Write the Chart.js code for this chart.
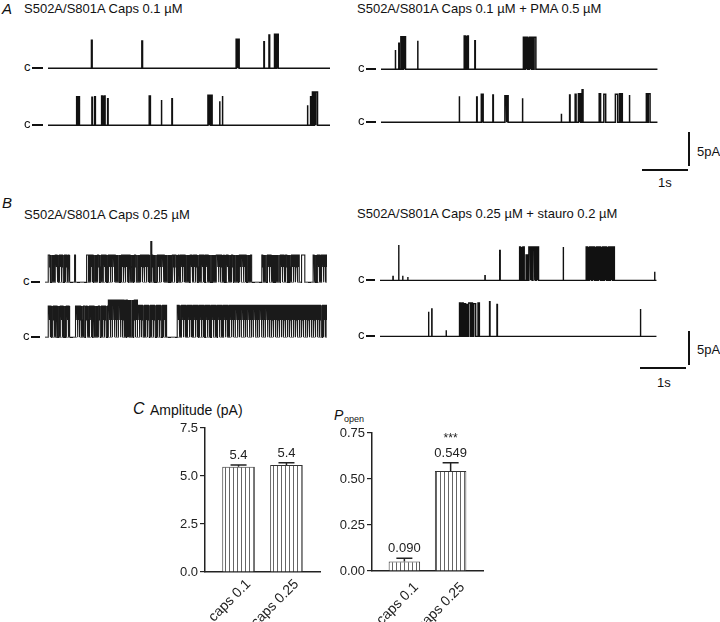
<!DOCTYPE html>
<html>
<head>
<meta charset="utf-8">
<script src="https://cdn.jsdelivr.net/npm/chart.js@4.4.1/dist/chart.umd.min.js"></script>
<style>
  html, body { margin: 0; padding: 0; background: #fff; }
  #fig { position: relative; width: 720px; height: 622px; overflow: hidden;
         font-family: "Liberation Sans", Arial, sans-serif; color: #111; }
  #fig canvas { position: absolute; }
  .t { position: absolute; font-size: 13px; line-height: 1; white-space: nowrap; }
  .it { font-style: italic; }
  .ln { position: absolute; background: #111; }
</style>
</head>
<body>
<div id="fig">
  <!-- panel A -->
  <div class="t it" style="left:2px;top:1px;font-size:15px">A</div>
  <div class="t" style="left:24px;top:2px">S502A/S801A Caps 0.1 µM</div>
  <div class="t" style="left:357px;top:2px">S502A/S801A Caps 0.1 µM + PMA 0.5 µM</div>

  <!-- panel B -->
  <div class="t it" style="left:2px;top:195px;font-size:15px">B</div>
  <div class="t" style="left:24px;top:208px">S502A/S801A Caps 0.25 µM</div>
  <div class="t" style="left:357px;top:207px">S502A/S801A Caps 0.25 µM + stauro 0.2 µM</div>

  <!-- scale bars -->
  <div class="ln" style="left:688px;top:132px;width:1.5px;height:34px"></div>
  <div class="ln" style="left:642px;top:169px;width:46px;height:1.5px"></div>
  <div class="t" style="left:697px;top:145px">5pA</div>
  <div class="t" style="left:658px;top:176px">1s</div>
  <div class="ln" style="left:688px;top:331px;width:1.5px;height:34px"></div>
  <div class="ln" style="left:640px;top:367px;width:46px;height:1.5px"></div>
  <div class="t" style="left:697px;top:343px">5pA</div>
  <div class="t" style="left:657px;top:376px">1s</div>

  <!-- panel C -->
  <div class="t it" style="left:133px;top:401px;font-size:16px">C</div>
  <div class="t" style="left:150px;top:403px;font-size:14px">Amplitude (pA)</div>
  <div class="t it" style="left:334px;top:408px;font-size:14px">P</div>
  <div class="t" style="left:344px;top:415px;font-size:9px">open</div>
</div>

<script>
/* ── DATA ── times in s, amplitudes in pA: [open, close, amplitude] */
const al1Events = [[0.94,0.955,4.2],[2.03,2.045,4.1],[4.07,4.135,4.35],[4.67,4.68,4.0],[4.78,4.795,5.0],[4.90,4.98,5.1]];
const al1Closures = [4.09,4.115,4.93,4.955];

const al2Events = [[0.62,0.635,4.3],[0.665,0.68,4.3],[0.95,0.962,4.2],[1.01,1.025,4.3],[1.16,1.235,4.4],[1.29,1.30,4.0],
  [2.19,2.215,4.4],[2.45,2.46,3.8],[2.68,2.69,4.0],[3.46,3.55,4.5],[3.71,3.72,3.6],[3.77,3.78,4.4],
  [5.61,5.62,3.0],[5.68,5.69,4.3],[5.72,5.83,5.0]];
const al2Closures = [1.185,1.21,3.485,3.515,5.75,5.785];

const ar1Events = [[0.31,0.315,2.9],[0.385,0.395,3.9],[0.43,0.53,4.9],[0.79,0.80,4.3],[1.80,1.89,5.0],[2.03,2.04,4.3],[3.08,3.35,4.8]];
const ar1Closures = [0.45,0.47,0.50,1.83,1.86,3.11,3.14,3.17,3.20,3.23,3.26,3.30];

const ar2Events = [[1.69,1.70,3.9],[2.07,2.08,3.8],[2.17,2.21,4.2],[2.42,2.43,4.1],[2.68,2.75,4.0],[3.06,3.065,3.6],
  [3.90,3.905,1.3],[4.08,4.09,4.1],[4.20,4.22,4.2],[4.27,4.32,4.3],[4.35,4.37,4.9],[4.72,4.75,4.3],[4.82,4.86,4.2],
  [5.07,5.12,4.2],[5.16,5.22,4.3],[5.37,5.38,4.1],[5.74,5.82,4.3]];
const ar2Closures = [2.19,2.71,4.29,5.19,5.77];

const bl1Events = [[0.07,0.54,4.1],[0.64,0.66,4.1],[0.90,2.29,4.1],[2.29,2.31,6.1],[2.31,4.47,4.1],
  [4.69,5.50,4.1],[5.55,5.62,4.1],[5.80,6.10,4.1]];
const bl1Closures = [0.12,0.17,0.21,0.26,0.30,0.35,0.40,0.44,0.49,
  0.94,0.98,1.02,1.05,1.10,1.13,1.18,1.22,1.25,1.30,1.34,1.36,1.41,1.45,1.50,1.53,1.57,1.62,1.65,1.69,1.74,1.78,1.81,
  1.86,1.90,1.93,1.98,2.03,2.06,2.10,2.15,2.19,2.23,2.27,2.35,2.39,2.42,2.47,2.51,2.56,2.59,2.63,2.68,2.72,2.75,2.80,
  2.85,2.88,2.92,2.97,3.01,3.04,3.09,3.13,3.18,3.21,3.25,3.30,3.34,3.37,3.42,3.46,3.51,3.54,3.58,3.63,3.67,3.70,3.75,
  3.79,3.84,3.87,3.91,3.96,4.00,4.03,4.08,4.12,4.17,4.20,4.24,4.29,4.33,4.36,4.41,4.44,
  4.73,4.77,4.80,4.85,4.89,4.92,4.97,5.01,5.05,5.08,5.13,5.17,5.20,5.25,5.29,5.33,5.37,5.41,5.46,
  5.84,5.88,5.93,5.97,6.02,6.06];
const bl1Flicker = [0.10,0.15,0.19,0.24,0.28,0.33,0.38,0.42,0.47,0.52,
  0.96,1.00,1.04,1.08,1.12,1.16,1.20,1.24,1.28,1.32,1.39,1.43,1.48,1.52,1.55,1.60,1.64,1.67,1.72,1.76,1.80,1.84,
  1.88,1.92,1.96,2.01,2.05,2.08,2.13,2.17,2.21,2.25,2.33,2.37,2.41,2.45,2.49,2.54,2.58,2.61,2.66,2.70,2.74,2.78,
  2.83,2.87,2.90,2.95,2.99,3.03,3.07,3.11,3.16,3.20,3.23,3.28,3.32,3.36,3.40,3.44,3.49,3.53,3.56,3.61,3.65,3.69,
  3.73,3.77,3.82,3.86,3.89,3.94,3.98,4.02,4.06,4.10,4.15,4.19,4.22,4.27,4.31,4.35,4.39,4.43,
  4.71,4.75,4.79,4.83,4.87,4.91,4.95,4.99,5.03,5.07,5.11,5.15,5.19,5.23,5.27,5.31,5.35,5.39,5.44,5.48,
  5.82,5.86,5.91,5.95,6.00,6.04,6.08];

const bl2Events = [[0.07,0.54,4.7],[0.66,1.37,4.7],[1.37,2.00,5.6],[2.00,2.63,4.8],[2.86,6.10,4.8]];
const bl2Closures = [0.11,0.15,0.20,0.23,0.28,0.32,0.37,0.41,0.45,0.50,
  0.70,0.74,0.79,0.83,0.86,0.91,0.95,1.00,1.03,1.08,1.12,1.15,1.20,1.24,1.28,1.33,
  1.41,1.45,1.50,1.54,1.58,1.63,1.67,1.72,1.75,1.78,1.80,1.83,1.86,1.90,1.95,
  2.04,2.08,2.13,2.17,2.21,2.26,2.30,2.34,2.39,2.43,2.47,2.52,2.56,2.60,
  2.90,2.94,2.99,3.03,3.07,3.12,3.16,3.20,3.25,3.29,3.33,3.38,3.42,3.46,3.51,3.55,3.59,3.64,3.68,3.72,3.77,3.81,
  3.85,3.90,3.94,3.98,4.03,4.07,4.11,4.16,4.20,4.24,4.29,4.33,4.37,4.42,4.46,4.50,4.55,4.59,4.63,4.68,4.72,4.76,
  4.81,4.85,4.89,4.94,4.98,5.02,5.07,5.11,5.15,5.20,5.24,5.28,5.33,5.37,5.41,5.46,5.50,5.54,5.59,5.63,5.67,5.72,
  5.76,5.80,5.85,5.89,5.93,5.98,6.02,6.06];
const bl2Flicker = [0.09,0.13,0.17,0.22,0.26,0.30,0.35,0.39,0.43,0.48,0.52,
  0.68,0.72,0.77,0.81,0.88,0.93,0.98,1.02,1.06,1.10,1.14,1.18,1.22,1.26,1.31,1.35,
  1.39,1.43,1.48,1.52,1.56,1.61,1.65,1.70,1.73,1.76,1.79,1.81,1.84,1.88,1.92,1.97,
  2.02,2.06,2.11,2.15,2.19,2.24,2.28,2.32,2.37,2.41,2.45,2.50,2.54,2.58,
  2.88,2.92,2.97,3.01,3.05,3.10,3.14,3.18,3.23,3.27,3.31,3.36,3.40,3.44,3.49,3.53,3.57,3.62,3.66,3.70,3.75,3.79,
  3.83,3.88,3.92,3.96,4.01,4.05,4.09,4.14,4.18,4.22,4.27,4.31,4.35,4.40,4.44,4.48,4.53,4.57,4.61,4.66,4.70,4.74,
  4.79,4.83,4.87,4.92,4.96,5.00,5.05,5.09,5.13,5.18,5.22,5.26,5.31,5.35,5.39,5.44,5.48,5.52,5.57,5.61,5.65,5.70,
  5.74,5.78,5.83,5.87,5.91,5.96,6.00,6.04,6.08];
const bl1FlickLevel = 2.3;
const bl2FlickLevel = 2.6;

const br1Events = [[0.28,0.285,0.6],[0.40,0.41,5.3],[0.49,0.495,0.7],[0.60,0.605,0.5],[2.27,2.275,0.7],[2.59,2.60,4.5],
  [3.02,3.07,5.0],[3.09,3.12,5.0],[3.16,3.19,3.8],[3.22,3.29,5.0],[3.31,3.36,5.0],[3.38,3.43,5.0],[3.96,3.97,5.0],
  [4.46,5.07,5.0],[5.94,5.945,1.3]];
const br1Closures = [3.04,3.25,3.27,3.34,3.40,4.49,4.52,4.55,4.58,4.61,4.64,4.67,4.71,4.74,4.77,4.80,4.84,4.87,4.90,4.93,4.97,5.00,5.03];

const br2Events = [[1.05,1.055,3.7],[1.12,1.125,4.1],[1.43,1.435,0.9],[1.72,1.80,5.0],[1.82,1.90,4.9],[1.92,2.00,5.0],
  [2.03,2.07,4.9],[2.12,2.15,5.0],[2.37,2.38,5.2],[2.53,2.54,4.8],[5.63,5.64,4.1]];
const br2Closures = [1.75,1.77,1.85,1.88,1.96];

const traceEndLeft = 6.1;
const traceEndRight = 5.98;
const closureDur = 0.012;

const barCats = ['caps 0.1', 'caps 0.25'];
const ampMean = [5.48, 5.57];
const ampSem = [0.09, 0.12];
const ampLabels = ['5.4', '5.4'];
const popenMean = [0.051, 0.543];
const popenSem = [0.018, 0.045];
const popenLabels = ['0.090', '0.549'];
const popenSig = ['', '***'];

/* ── SETUP ── */
const FONT = '"Liberation Sans", Arial, sans-serif';
Chart.defaults.font.family = FONT;
const fig = document.getElementById('fig');

const PX_PER_S = 46.2, Y_MIN = -1, Y_MAX = 6.5, TRACE_H = 50;

// step trace: every change of level becomes two points at the same time
function tracePoints(events, closures, flicker, flickLevel, tEnd) {
  const steps = [];
  events.forEach(([t0, t1, amp]) => {
    steps.push([t0, amp]);
    closures.map(c => [c, 0])
      .concat(flicker.map(f => [f, flickLevel]))
      .filter(([c]) => c > t0 && c < t1)
      .sort((a, b) => a[0] - b[0])
      .forEach(([c, lvl]) => { steps.push([c, lvl], [c + closureDur, amp]); });
    steps.push([t1, 0]);
  });
  const pts = [{ x: 0, y: 0 }];
  let cur = 0;
  steps.forEach(([t, lvl]) => { pts.push({ x: t, y: cur }, { x: t, y: lvl }); cur = lvl; });
  pts.push({ x: tEnd, y: 0 });
  return pts;
}

function addLabelC(left, base, dashL, dashW) {
  const c = document.createElement('div');
  c.className = 't';
  c.style.left = left + 'px';
  c.style.top = (base - 8) + 'px';
  c.textContent = 'c';
  fig.appendChild(c);
  const d = document.createElement('div');
  d.className = 'ln';
  d.style.cssText = `left:${dashL}px;top:${base - 0.75}px;width:${dashW}px;height:1.5px`;
  fig.appendChild(d);
}

function drawTrace(t) {
  const cv = document.createElement('canvas');
  cv.width = Math.round(PX_PER_S * traceEndLeft);
  cv.height = TRACE_H;
  cv.style.left = t.left + 'px';
  cv.style.top = Math.round(t.base - TRACE_H * Y_MAX / (Y_MAX - Y_MIN)) + 'px';
  fig.appendChild(cv);
  const datasets = [{
    data: tracePoints(t.events, t.closures, t.flicker || [], t.flickLevel || 0, t.tEnd),
    borderColor: t.color || '#111', borderWidth: t.lw || 1.5, pointRadius: 0, tension: 0
  }];
  if (t.dashed) datasets.unshift({
    data: [{ x: 0, y: 0 }, { x: t.tEnd, y: 0 }],
    borderColor: '#888', borderWidth: 1, borderDash: [4, 3], pointRadius: 0
  });
  new Chart(cv, {
    type: 'line',
    data: { datasets },
    options: {
      animation: false, responsive: false, events: [], devicePixelRatio: 1,
      layout: { padding: 0 },
      plugins: { legend: { display: false }, tooltip: { enabled: false } },
      scales: {
        x: { type: 'linear', min: 0, max: traceEndLeft, display: false },
        y: { min: Y_MIN, max: Y_MAX, display: false }
      }
    }
  });
  addLabelC(t.cLeft, t.base, t.cLeft + 8, t.left - t.cLeft - 13);
}

[
  { events: al1Events, closures: al1Closures, tEnd: traceEndLeft,  left: 48,  base: 68,  cLeft: 24 },
  { events: al2Events, closures: al2Closures, tEnd: traceEndLeft,  left: 48,  base: 125, cLeft: 24 },
  { events: ar1Events, closures: ar1Closures, tEnd: traceEndRight, left: 381, base: 69,  cLeft: 358 },
  { events: ar2Events, closures: ar2Closures, tEnd: traceEndRight, left: 381, base: 122, cLeft: 358 },
  { events: bl1Events, closures: bl1Closures, flicker: bl1Flicker, flickLevel: bl1FlickLevel,
    tEnd: traceEndLeft, left: 45, base: 282, cLeft: 23, dashed: true, lw: 1.1, color: '#1a1a1a' },
  { events: bl2Events, closures: bl2Closures, flicker: bl2Flicker, flickLevel: bl2FlickLevel,
    tEnd: traceEndLeft, left: 45, base: 337, cLeft: 23, dashed: true, lw: 1.1, color: '#1a1a1a' },
  { events: br1Events, closures: br1Closures, tEnd: traceEndRight, left: 380, base: 280, cLeft: 358, lw: 1.4 },
  { events: br2Events, closures: br2Closures, tEnd: traceEndRight, left: 380, base: 336, cLeft: 358, lw: 1.4 }
].forEach(drawTrace);

/* ── BAR CHARTS ── */
function stripes() {
  const c = document.createElement('canvas');
  c.width = 4; c.height = 4;
  const g = c.getContext('2d');
  g.fillStyle = '#fff'; g.fillRect(0, 0, 4, 4);
  g.fillStyle = '#666'; g.fillRect(3, 0, 1, 4);
  return g.createPattern(c, 'repeat');
}

// error bars (mean + SEM), value labels and rotated category labels
const errPlugin = {
  id: 'err',
  afterDraw(chart, args, o) {
    const { ctx, scales: { x, y }, chartArea } = chart;
    ctx.save();
    ctx.strokeStyle = '#222';
    ctx.lineWidth = 1.5;
    ctx.fillStyle = '#222';
    o.mean.forEach((m, i) => {
      const px = x.getPixelForValue(i + 1);
      const y0 = y.getPixelForValue(m);
      const y1 = y.getPixelForValue(m + o.sem[i]);
      ctx.beginPath();
      ctx.moveTo(px, y0); ctx.lineTo(px, y1);
      ctx.moveTo(px - 8, y1); ctx.lineTo(px + 8, y1);
      ctx.stroke();
      ctx.textAlign = 'center';
      ctx.textBaseline = 'alphabetic';
      ctx.font = '13px ' + FONT;
      ctx.fillText(o.labels[i], px, y1 - 6);
      if (o.sig && o.sig[i]) {
        ctx.font = '12px ' + FONT;
        ctx.fillText(o.sig[i], px, y1 - 21);
      }
      ctx.save();
      ctx.translate(px + o.dx, chartArea.bottom + o.dy);
      ctx.rotate(-Math.PI / 4);
      ctx.textAlign = 'right';
      ctx.textBaseline = 'middle';
      ctx.font = '14px ' + FONT;
      ctx.fillText(barCats[i], 0, 0);
      ctx.restore();
    });
    ctx.restore();
  }
};

function barChart(box, mean, sem, labels, sig, yMax, step, digits, yW, xH, padTop, padRight, dx, dy) {
  const cv = document.createElement('canvas');
  cv.width = box.w; cv.height = box.h;
  cv.style.left = box.x + 'px'; cv.style.top = box.y + 'px';
  fig.appendChild(cv);
  new Chart(cv, {
    type: 'bar',
    data: {
      datasets: [{
        data: mean.map((v, i) => ({ x: i + 1, y: v })),
        backgroundColor: stripes(), borderColor: '#333', borderWidth: 1,
        barPercentage: 0.68, categoryPercentage: 1
      }]
    },
    options: {
      animation: false, responsive: false, events: [], devicePixelRatio: 1,
      layout: { padding: { top: padTop, right: padRight, left: 0, bottom: 0 } },
      plugins: { legend: { display: false }, tooltip: { enabled: false },
                 err: { mean, sem, labels, sig, dx, dy } },
      scales: {
        x: {
          type: 'linear', min: 0.3, max: 2.7, offset: false,
          grid: { display: false },
          border: { display: true, color: '#222', width: 1.5 },
          afterBuildTicks: s => { s.ticks = barCats.map((c, i) => ({ value: i + 1 })); },
          afterFit: s => { s.height = xH; },
          ticks: { display: false }
        },
        y: {
          min: 0, max: yMax,
          afterFit: s => { s.width = yW; },
          grid: { display: true, drawOnChartArea: false, drawTicks: true, tickLength: 5, color: '#222', lineWidth: 1.2 },
          border: { display: true, color: '#222', width: 1.5 },
          ticks: { stepSize: step, padding: 2, color: '#222', font: { size: 13 },
                   callback: v => v.toFixed(digits) }
        }
      }
    },
    plugins: [errPlugin]
  });
}

barChart({ x: 150, y: 410, w: 180, h: 212 }, ampMean, ampSem, ampLabels, null, 7.5, 2.5, 1, 55, 50, 18, 10, 10, 10);
barChart({ x: 325, y: 415, w: 165, h: 207 }, popenMean, popenSem, popenLabels, popenSig, 0.75, 0.25, 2, 47, 51, 18, 7, 12, 14);
</script>
</body>
</html>
